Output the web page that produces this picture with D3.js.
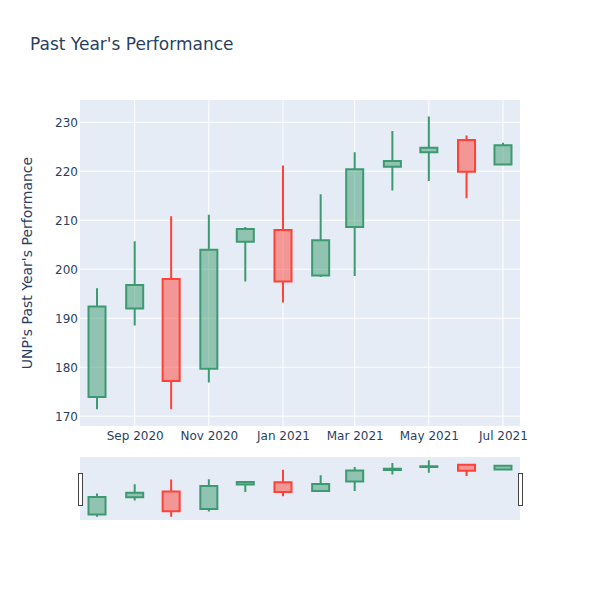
<!DOCTYPE html>
<html>
<head>
<meta charset="utf-8">
<script src="https://cdn.jsdelivr.net/npm/d3@7"></script>
<style>
  html, body { margin: 0; padding: 0; background: #fff; }
  svg text { font-family: "DejaVu Sans", "Open Sans", sans-serif; fill: #2a3f5f; }
</style>
</head>
<body>
<svg id="chart" width="600" height="600"></svg>
<script>
const dates  = ["2020-08-01","2020-09-01","2020-10-01","2020-11-01","2020-12-01","2021-01-01",
                "2021-02-01","2021-03-01","2021-04-01","2021-05-01","2021-06-01","2021-07-01"];
const opens  = [173.9, 192.0, 198.0, 179.7, 205.6, 208.0, 198.7, 208.6, 220.9, 223.9, 226.4, 221.4];
const highs  = [196.1, 205.7, 210.8, 211.1, 208.6, 221.2, 215.3, 223.9, 228.2, 231.2, 227.3, 225.8];
const lows   = [171.4, 188.5, 171.4, 176.9, 197.5, 193.2, 198.4, 198.6, 216.1, 218.0, 214.5, 221.4];
const closes = [192.4, 196.8, 177.2, 204.0, 208.2, 197.5, 205.9, 220.4, 222.1, 224.8, 219.9, 225.3];
const yTicks = [170, 180, 190, 200, 210, 220, 230];
const xTickDates = ["2020-09-01","2020-11-01","2021-01-01","2021-03-01","2021-05-01","2021-07-01"];
const titleText = "Past Year's Performance";
const yTitle = "UNP's Past Year's Performance";

const parse = d3.utcParse("%Y-%m-%d");
const data = dates.map((d, i) => ({date: parse(d), o: opens[i], h: highs[i], l: lows[i], c: closes[i]}));

const svg = d3.select("#chart");
const L = 80, R = 520, T = 100, B = 426;
const sT = 457, sB = 520;
const halfDays = 14;
const dayMs = 86400000;

const x = d3.scaleUtc()
  .domain([new Date(+data[0].date - halfDays*dayMs), new Date(+data[data.length-1].date + halfDays*dayMs)])
  .range([L, R]);
const yDomain = [168.0, 234.55];
const y = d3.scaleLinear().domain(yDomain).range([B, T]);
const ys = d3.scaleLinear().domain(yDomain).range([sB, sT]);

const INC = "#3D9970", DEC = "#FF4136";
const halfW = (x(new Date(+data[0].date + 7*dayMs)) - x(data[0].date));

// title
svg.append("text").attr("x", 30).attr("y", 50).attr("font-size", 17).text(titleText);

// plot bg
svg.append("rect").attr("x", L).attr("y", T).attr("width", R-L).attr("height", B-T).attr("fill", "#E5ECF6");

// gridlines
const xt = xTickDates.map(parse);
svg.append("g").selectAll("line").data(xt).join("line")
  .attr("x1", d => x(d)).attr("x2", d => x(d)).attr("y1", T).attr("y2", B)
  .attr("stroke", "#fff").attr("stroke-width", 1);
svg.append("g").selectAll("line").data(yTicks).join("line")
  .attr("x1", L).attr("x2", R).attr("y1", d => y(d)).attr("y2", d => y(d))
  .attr("stroke", "#fff").attr("stroke-width", 1);

// axes via d3
const yAxis = d3.axisLeft(y).tickValues(yTicks).tickSize(0).tickPadding(2);
const gy = svg.append("g").attr("transform", `translate(${L},0)`).call(yAxis);
gy.select(".domain").remove();
gy.selectAll("text").attr("font-size", 12).style("font-family", '"DejaVu Sans", sans-serif').attr("fill", "#2a3f5f");

const xAxis = d3.axisBottom(x).tickValues(xt).tickFormat(d3.utcFormat("%b %Y")).tickSize(0).tickPadding(5);
const gx = svg.append("g").attr("transform", `translate(0,${B})`).call(xAxis);
gx.select(".domain").remove();
gx.selectAll("text").attr("font-size", 12).style("font-family", '"DejaVu Sans", sans-serif').attr("fill", "#2a3f5f");

// y title
svg.append("text").attr("transform", `translate(32,${(T+B)/2}) rotate(-90)`)
  .attr("text-anchor", "middle").attr("font-size", 14).text(yTitle);

function drawCandles(g, ys_, clipTop, clipBot) {
  data.forEach(d => {
    const col = d.c >= d.o ? INC : DEC;
    const cx = x(d.date);
    const top = Math.max(d.o, d.c), bot = Math.min(d.o, d.c);
    const p = [
      `M${cx},${ys_(d.h)}V${ys_(top)}`,
      `M${cx},${ys_(bot)}V${ys_(d.l)}`,
      `M${cx-halfW},${ys_(top)}H${cx+halfW}V${ys_(bot)}H${cx-halfW}Z`
    ].join("");
    g.append("path").attr("d", p)
      .attr("stroke", col).attr("stroke-width", 2)
      .attr("fill", col).attr("fill-opacity", 0.5);
  });
}

const main = svg.append("g");
drawCandles(main, y);

// range slider
svg.append("rect").attr("x", L).attr("y", sT).attr("width", R-L).attr("height", sB-sT).attr("fill", "#E5ECF6");
const slider = svg.append("g");
drawCandles(slider, ys);
[L, R].forEach(hx => {
  svg.append("rect").attr("x", hx - 2).attr("y", 473.5).attr("width", 4).attr("height", 32)
    .attr("fill", "#fff").attr("stroke", "#444").attr("stroke-width", 1).attr("shape-rendering", "crispEdges");
});
</script>
</body>
</html>
